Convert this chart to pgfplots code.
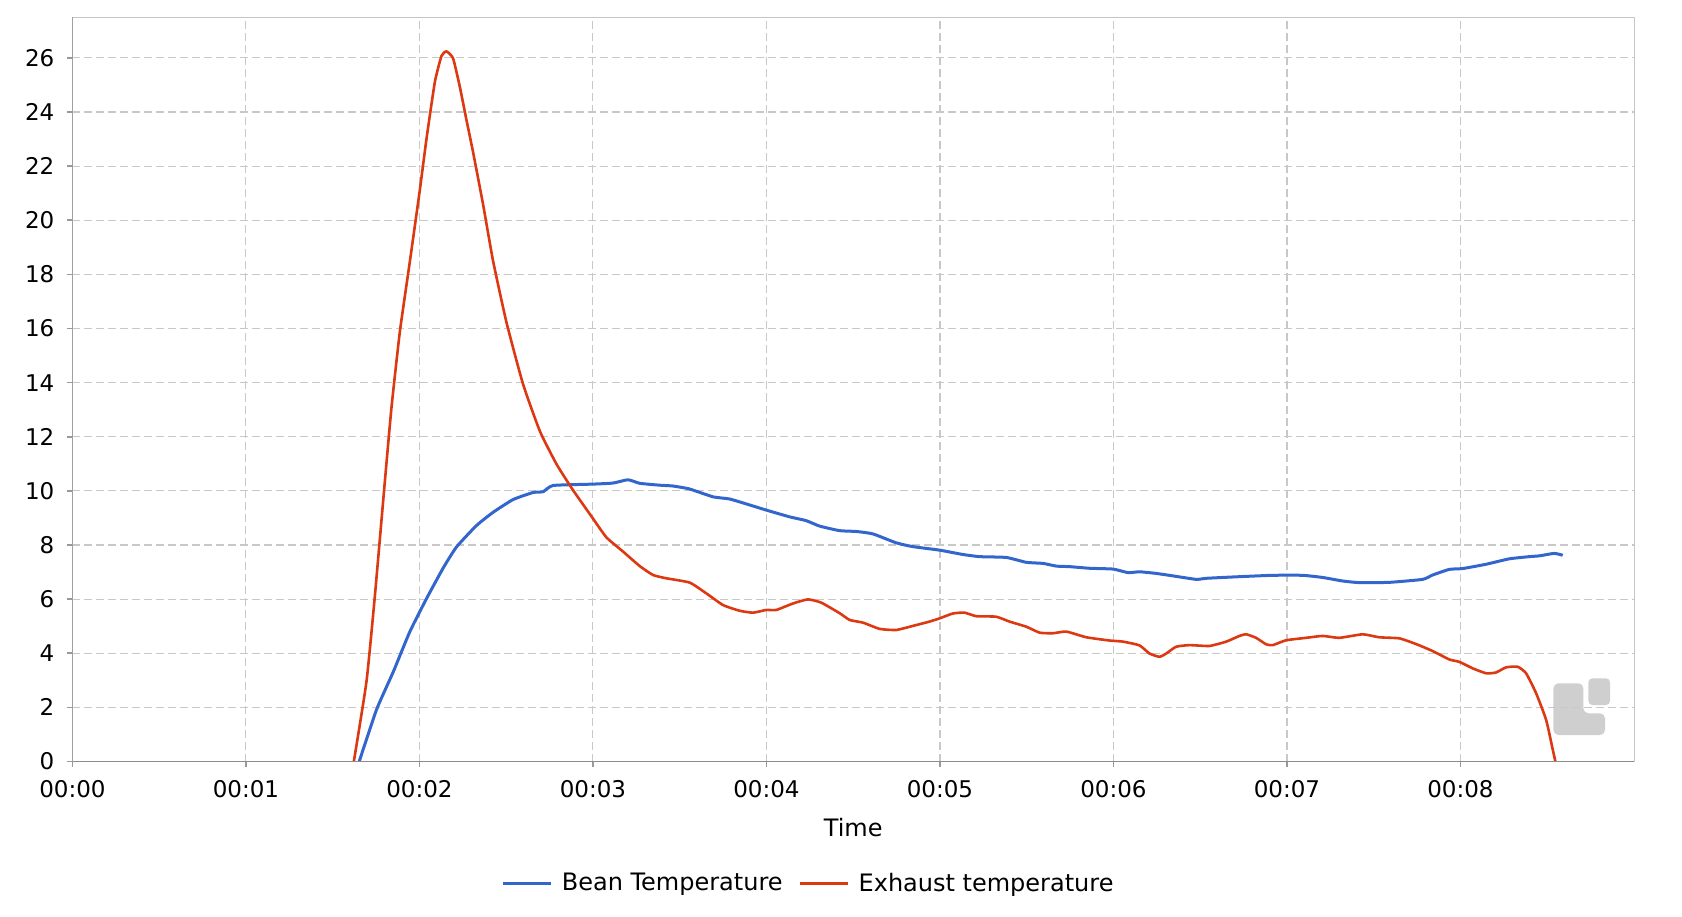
\documentclass[border=0pt]{standalone}
\usepackage{pgfplots}
\pgfplotsset{compat=1.18}
\usepackage{pgfplotstable}
\usepackage{fontspec}
\setmainfont{DejaVu Sans}
\definecolor{beanblue}{RGB}{51,102,204}
\definecolor{exhred}{RGB}{220,57,18}
\definecolor{gridgray}{RGB}{200,200,200}

\pgfplotstableread{
t v
1.653 0
1.753 1.92
1.849 3.31
1.945 4.80
2.041 6.02
2.137 7.15
2.214 7.93
2.329 8.72
2.425 9.21
2.540 9.68
2.655 9.94
2.713 9.97
2.771 10.20
3.000 10.25
3.116 10.29
3.202 10.41
3.270 10.28
3.385 10.21
3.461 10.18
3.557 10.07
3.692 9.78
3.788 9.70
3.903 9.48
3.999 9.29
4.134 9.04
4.229 8.90
4.306 8.70
4.422 8.53
4.518 8.50
4.614 8.41
4.748 8.08
4.844 7.94
4.998 7.81
5.132 7.65
5.229 7.57
5.382 7.54
5.498 7.36
5.594 7.32
5.671 7.22
5.748 7.20
5.863 7.14
5.998 7.11
6.084 6.98
6.151 7.01
6.246 6.95
6.342 6.86
6.477 6.73
6.535 6.77
6.727 6.83
6.918 6.88
7.090 6.88
7.206 6.80
7.321 6.67
7.418 6.61
7.590 6.62
7.782 6.73
7.839 6.89
7.936 7.10
8.013 7.13
8.148 7.29
8.282 7.49
8.397 7.57
8.455 7.60
8.541 7.69
8.589 7.62
}\bean

\pgfplotstableread{
t v
1.622 0
1.695 2.96
1.743 6.10
1.800 10.29
1.839 13.08
1.887 15.87
1.945 18.48
2.002 21.10
2.041 23.02
2.089 25.11
2.127 26.07
2.156 26.24
2.194 25.98
2.233 24.93
2.271 23.71
2.310 22.49
2.367 20.58
2.425 18.48
2.502 16.22
2.597 13.95
2.694 12.21
2.790 10.99
2.885 10.03
3.000 8.98
3.078 8.28
3.173 7.76
3.270 7.22
3.347 6.89
3.423 6.77
3.558 6.61
3.654 6.21
3.750 5.78
3.846 5.57
3.923 5.50
3.999 5.60
4.057 5.60
4.153 5.84
4.239 5.99
4.316 5.87
4.422 5.48
4.480 5.23
4.557 5.13
4.653 4.90
4.748 4.86
4.844 5.01
4.940 5.17
4.998 5.29
5.075 5.47
5.142 5.50
5.209 5.37
5.324 5.35
5.401 5.17
5.498 4.98
5.575 4.76
5.652 4.74
5.729 4.80
5.844 4.59
5.978 4.47
6.055 4.43
6.150 4.29
6.208 3.99
6.265 3.87
6.304 3.99
6.361 4.24
6.438 4.30
6.553 4.27
6.650 4.43
6.726 4.64
6.765 4.70
6.822 4.57
6.880 4.33
6.918 4.30
6.995 4.48
7.110 4.57
7.206 4.64
7.302 4.57
7.436 4.70
7.532 4.59
7.648 4.55
7.744 4.34
7.840 4.08
7.936 3.77
7.994 3.68
8.071 3.44
8.148 3.26
8.205 3.29
8.263 3.48
8.330 3.50
8.378 3.26
8.436 2.52
8.494 1.53
8.532 0.43
8.547 0
}\exhaust

\begin{document}
\begin{tikzpicture}
\useasboundingbox (-36.2pt,-77.25pt) rectangle (804.8pt,380.75pt);
% watermark logo
\fill[gray!38,rounded corners=2.5pt] (740.5pt,13.25pt) -- (766.3pt,13.25pt) -- (766.3pt,24.1pt) -- (755.5pt,24.1pt) -- (755.5pt,39.1pt) -- (740.5pt,39.1pt) -- cycle;
\fill[gray!38,rounded corners=2pt] (758pt,28.25pt) rectangle (768.8pt,41.6pt);
\begin{axis}[
  at={(0,0)}, anchor=south west,
  scale only axis,
  width=780.8pt, height=372.1pt,
  xmin=0, xmax=9, ymin=0, ymax=27.5,
  xtick={0,1,2,3,4,5,6,7,8},
  xticklabels={00:00,00:01,00:02,00:03,00:04,00:05,00:06,00:07,00:08},
  ytick={0,2,...,26},
  font=\fontsize{11.5}{13.8}\selectfont,
  /pgf/number format/assume math mode=true,
  tick align=outside,
  major tick length=2.5pt,
  tick style={gray!80, line width=0.8pt},
  xtick pos=bottom, ytick pos=left,
  grid=major,
  major grid style={gridgray, dash pattern=on 4pt off 2pt, line width=0.55pt},
  axis line style={gray!45, line width=0.5pt},
  yticklabel style={xshift=-3pt},
  xticklabel style={yshift=-3.3pt},
  xlabel={Time},
  every axis x label/.style={at={(axis description cs:0.5,0)}, anchor=center, yshift=-33pt, font=\fontsize{12}{14}\selectfont},
  legend columns=2,
  legend style={at={(axis description cs:0.472,-0.164)}, anchor=center, draw=none, fill=none,
    font=\fontsize{12}{14}\selectfont,
    /tikz/every odd column/.append style={column sep=2.7pt},
    /tikz/every even column/.append style={column sep=6pt}},
  legend image code/.code={\draw[#1] (0pt,0pt) -- (24pt,0pt);},
]
\addplot[beanblue, line width=1.5pt, line join=round, smooth, tension=0.3] table[x=t,y=v] {\bean};
\addlegendentry{Bean Temperature}
\addplot[exhred, line width=1.3pt, line join=round, smooth, tension=0.3] table[x=t,y=v] {\exhaust};
\addlegendentry{Exhaust temperature}
\draw[gray!90, line width=1pt] (axis description cs:0,1) -- (axis description cs:0,0) -- (axis description cs:1,0);
\end{axis}
\end{tikzpicture}
\end{document}
